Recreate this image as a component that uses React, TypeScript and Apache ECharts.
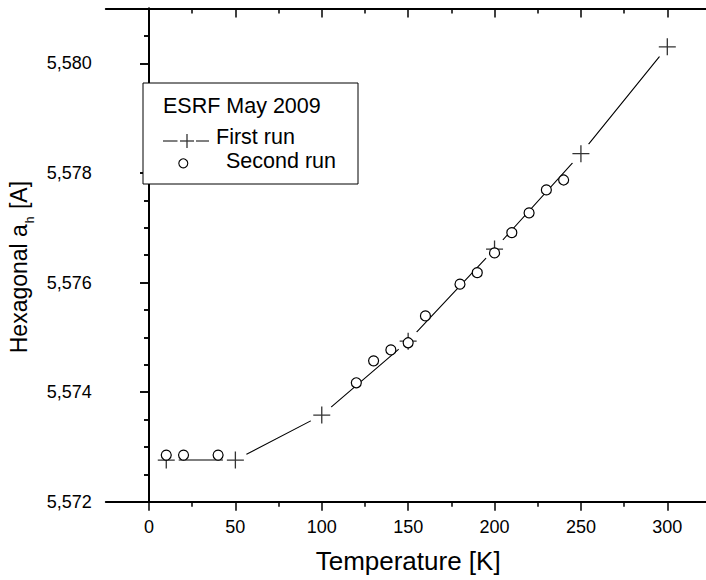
import React, { useEffect, useRef } from "react";
import * as echarts from "echarts";

const firstT = [10, 50, 100, 150, 200, 250, 300];
const firstA = [5.57276, 5.57276, 5.57358, 5.57493, 5.57661, 5.57835, 5.5803];
const secondT = [10, 20, 40, 120, 130, 140, 150, 160, 180, 190, 200, 210, 220, 230, 240];
const secondA = [
  5.57285, 5.57285, 5.57285, 5.57417, 5.57457, 5.57477, 5.5749, 5.57539, 5.57597, 5.57618,
  5.57654, 5.57691, 5.57727, 5.57769, 5.57787,
];
const xMajor = [0, 50, 100, 150, 200, 250, 300];
const xMinor = [25, 75, 125, 175, 225, 275];
const yMajor = [5.572, 5.574, 5.576, 5.578, 5.58];
const yMinor = [5.5725, 5.573, 5.5735, 5.5745, 5.575, 5.5755, 5.5765, 5.577, 5.5775, 5.5785, 5.579, 5.5795, 5.5805];

const FONT = "'Liberation Sans', Arial, sans-serif";
const PLUS = "path://M8,0 L8,16 M0,8 L16,8";

export default function App() {
  const ref = useRef<HTMLDivElement>(null);
  useEffect(() => {
    if (!ref.current) return;
    const chart = echarts.init(ref.current, null, { renderer: "svg" });
    const first = firstT.map((t, i) => [t, firstA[i]]);
    const second = secondT.map((t, i) => [t, secondA[i]]);
    const axLine = { show: true, lineStyle: { color: "#000", width: 2 } };
    const mkX = (pos: string, vals: number[], len: number, inside: boolean, labels: boolean, line: boolean) => ({
      type: "value",
      position: pos,
      min: -25,
      max: 325,
      axisLine: line ? axLine : { show: false },
      axisTick: { show: true, inside, length: len, customValues: vals, lineStyle: { color: "#000", width: 1.5 } },
      axisLabel: labels
        ? { show: true, customValues: vals, color: "#000", fontSize: 18, fontFamily: FONT, margin: 16 }
        : { show: false },
      splitLine: { show: false },
    });
    const mkY = (pos: string, vals: number[], len: number, inside: boolean, labels: boolean, line: boolean) => ({
      type: "value",
      position: pos,
      min: 5.572,
      max: 5.581,
      axisLine: line ? axLine : { show: false },
      axisTick: { show: true, inside, length: len, customValues: vals, lineStyle: { color: "#000", width: 1.5 } },
      axisLabel: labels
        ? {
            show: true,
            customValues: vals,
            color: "#000",
            fontSize: 18,
            fontFamily: FONT,
            margin: 14,
            formatter: (v: number) => v.toFixed(3).replace(".", ","),
          }
        : { show: false },
      splitLine: { show: false },
    });
    const xAxes: any[] = [
      mkX("bottom", xMajor, 9, false, true, true),
      mkX("bottom", xMinor, 5, false, false, false),
      mkX("top", xMajor, 9, true, false, true),
      mkX("top", xMinor, 5, true, false, false),
    ];
    xAxes[0].name = "Temperature [K]";
    xAxes[0].nameLocation = "middle";
    xAxes[0].nameGap = 46;
    xAxes[0].nameTextStyle = { fontSize: 26, fontFamily: FONT, color: "#000" };
    const yAxes: any[] = [
      mkY("left", yMajor, 9, false, true, true),
      mkY("left", yMinor, 5, false, false, false),
      mkY("right", yMajor, 9, true, false, true),
      mkY("right", yMinor, 5, true, false, false),
    ];
    yAxes[0].name = "{n|Hexagonal a}{s|h}{n| [A]}";
    yAxes[0].nameLocation = "middle";
    yAxes[0].nameGap = 64;
    yAxes[0].nameTextStyle = {
      fontFamily: FONT,
      color: "#000",
      padding: [0, 24, 0, 0],
      rich: {
        n: { fontSize: 23, fontFamily: FONT, color: "#000", lineHeight: 24, verticalAlign: "top" },
        s: {
          fontSize: 12,
          fontFamily: FONT,
          color: "#000",
          lineHeight: 12,
          padding: [16, 1, 0, 1],
          verticalAlign: "top",
        },
      },
    };
    chart.setOption({
      animation: false,
      backgroundColor: "#fff",
      grid: { left: 105.8, top: 8.5, width: 604.7, height: 493.2, containLabel: false, outerBoundsMode: "none" },
      xAxis: xAxes,
      yAxis: yAxes,
      series: [
        {
          type: "line",
          data: first,
          showSymbol: false,
          symbol: "none",
          lineStyle: { color: "#000", width: 1.1 },
          z: 2,
        },
        {
          type: "scatter",
          data: first,
          symbol: "circle",
          symbolSize: 25,
          itemStyle: { color: "#fff", borderWidth: 0, opacity: 1 },
          z: 3,
          silent: true,
        },
        {
          type: "scatter",
          data: first,
          symbol: PLUS,
          symbolSize: 17,
          itemStyle: { color: "none", borderColor: "#333", borderWidth: 1.3, opacity: 1 },
          z: 4,
        },
        {
          type: "scatter",
          data: second,
          symbol: "circle",
          symbolSize: 10,
          itemStyle: { color: "#fff", borderColor: "#000", borderWidth: 1.2, opacity: 1 },
          z: 5,
        },
      ],
      graphic: [
        {
          type: "rect",
          shape: { x: 143, y: 83, width: 215, height: 101 },
          style: { fill: "#fff", stroke: "#000", lineWidth: 1 },
          z: 10,
        },
        {
          type: "text",
          x: 163,
          y: 105.5,
          style: { text: "ESRF May 2009", font: `21.5px ${FONT}`, fill: "#000", verticalAlign: "middle" },
          z: 11,
        },
        { type: "line", shape: { x1: 163, y1: 141, x2: 177.5, y2: 141 }, style: { stroke: "#000", lineWidth: 1 }, z: 11 },
        { type: "line", shape: { x1: 196, y1: 141, x2: 209, y2: 141 }, style: { stroke: "#000", lineWidth: 1 }, z: 11 },
        { type: "line", shape: { x1: 180, y1: 141, x2: 194, y2: 141 }, style: { stroke: "#333", lineWidth: 1.3 }, z: 11 },
        { type: "line", shape: { x1: 187, y1: 134, x2: 187, y2: 148 }, style: { stroke: "#333", lineWidth: 1.3 }, z: 11 },
        {
          type: "text",
          x: 216,
          y: 137,
          style: { text: "First run", font: `21.5px ${FONT}`, fill: "#000", verticalAlign: "middle" },
          z: 11,
        },
        {
          type: "circle",
          shape: { cx: 183.3, cy: 163.3, r: 4.5 },
          style: { fill: "#fff", stroke: "#000", lineWidth: 1.1 },
          z: 11,
        },
        {
          type: "text",
          x: 226,
          y: 160.5,
          style: { text: "Second run", font: `21.5px ${FONT}`, fill: "#000", verticalAlign: "middle" },
          z: 11,
        },
      ],
    });
    return () => chart.dispose();
  }, []);
  return <div ref={ref} style={{ position: "absolute", left: 0, top: 0, width: 706, height: 580 }} />;
}
